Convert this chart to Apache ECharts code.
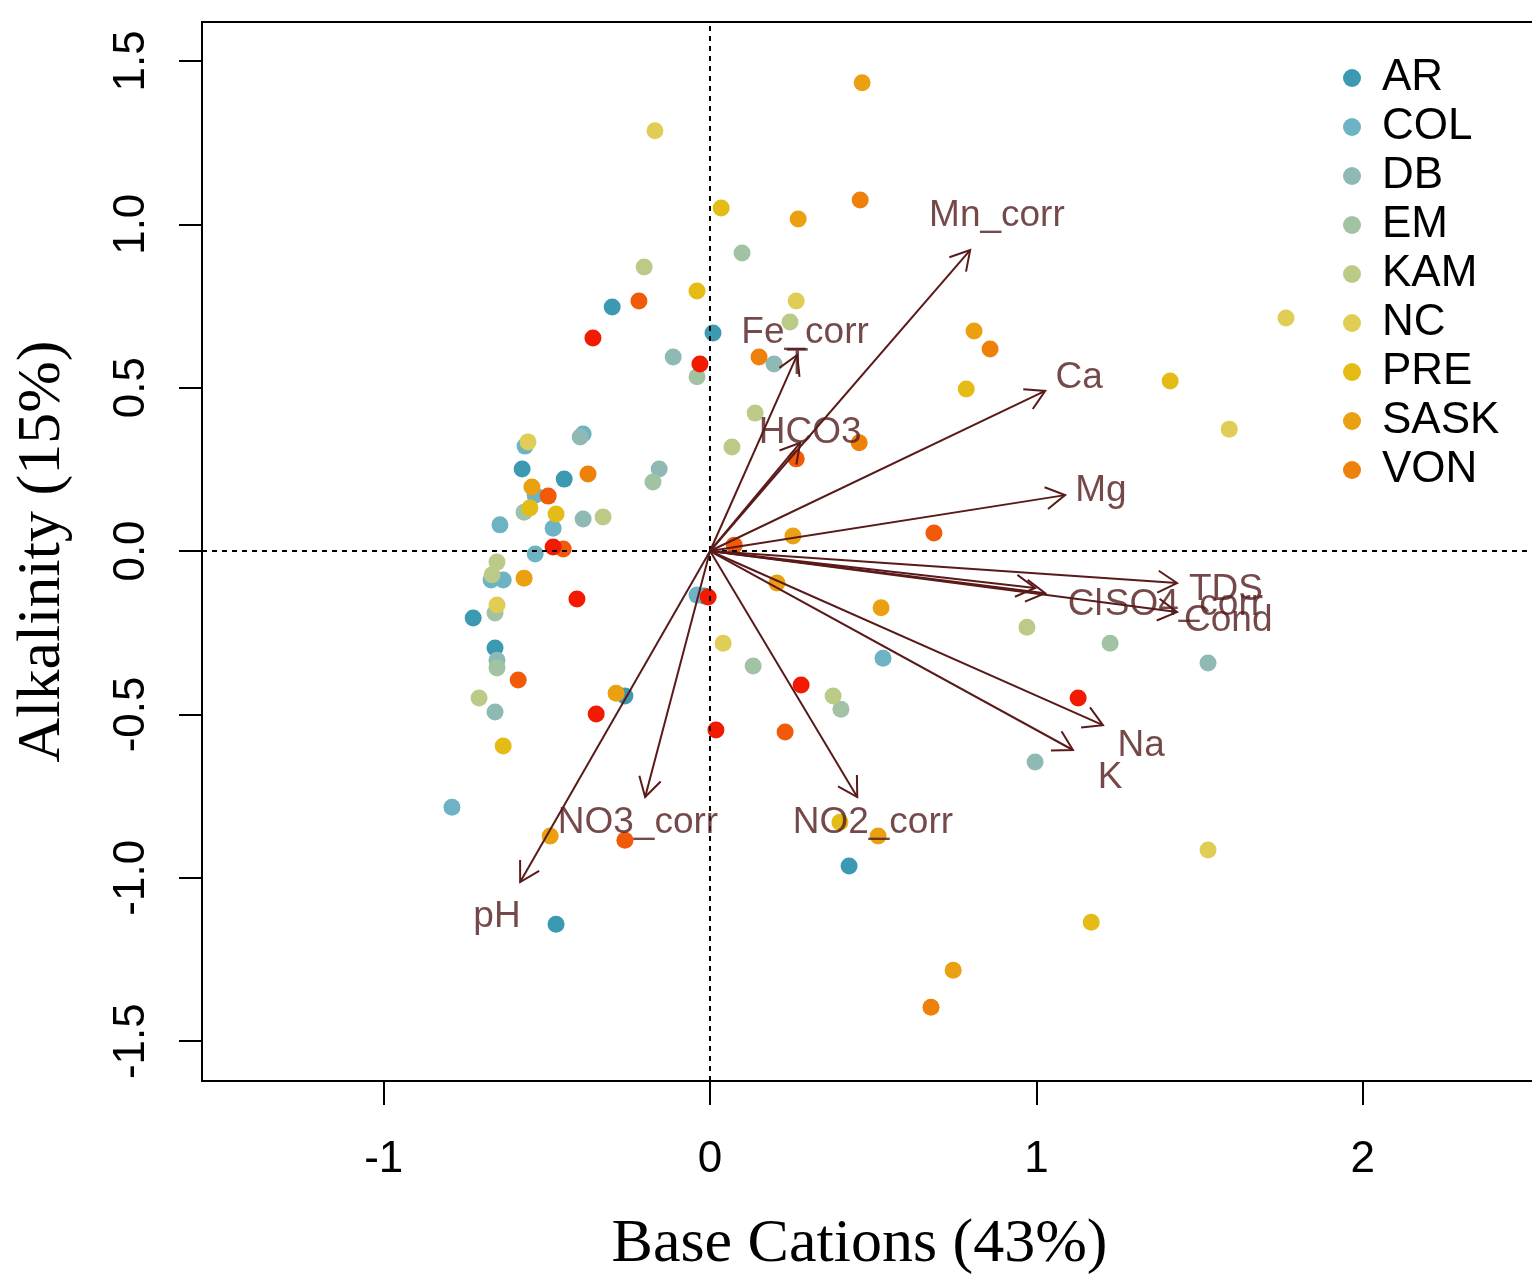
<!DOCTYPE html>
<html>
<head>
<meta charset="utf-8">
<script src="https://cdn.jsdelivr.net/npm/echarts@6/dist/echarts.min.js"></script>
<style>
  html, body { margin: 0; padding: 0; background: #fff; }
  #chart { width: 1532px; height: 1276px; }
</style>
</head>
<body>
<div id="chart"></div>
<script>
// site groups (legend) and their colours
var groups = ['AR', 'COL', 'DB', 'EM', 'KAM', 'NC', 'PRE', 'SASK', 'VON', 'G10', 'G11'];
var legendGroups = ['AR', 'COL', 'DB', 'EM', 'KAM', 'NC', 'PRE', 'SASK', 'VON'];
var colors = ['#3b9ab2', '#6db3c3', '#8fb9b5', '#a2c3a3', '#bcca88', '#dfcd55', '#e5bc15', '#eaa010', '#ee800c', '#f05a08', '#f21a00'];

// sample scores, [PC1, PC2]
var ar = [[-0.300, 0.747], [0.009, 0.667], [-0.576, 0.251], [-0.447, 0.220], [-0.726, -0.205], [-0.659, -0.297], [-0.261, -0.444], [-0.018, -0.138], [0.426, -0.964], [-0.472, -1.142]];
var col = [[-0.567, 0.321], [-0.389, 0.358], [-0.536, 0.171], [-0.644, 0.080], [-0.481, 0.070], [-0.536, -0.009], [-0.634, -0.089], [-0.671, -0.089], [-0.040, -0.135], [0.530, -0.328], [-0.791, -0.784]];
var db = [[-0.398, 0.349], [-0.389, 0.098], [-0.113, 0.594], [0.196, 0.572], [-0.156, 0.251], [-0.653, -0.334], [-0.659, -0.493], [1.526, -0.343], [0.996, -0.646]];
var em = [[0.098, 0.912], [-0.040, 0.533], [-0.570, 0.119], [-0.175, 0.211], [-0.659, -0.190], [-0.653, -0.358], [0.132, -0.352], [0.401, -0.484], [1.226, -0.282]];
var kam = [[-0.202, 0.869], [0.245, 0.701], [0.138, 0.422], [0.067, 0.318], [-0.328, 0.104], [-0.653, -0.034], [-0.668, -0.073], [-0.708, -0.450], [0.377, -0.444], [0.971, -0.233]];
var nc = [[-0.169, 1.286], [0.264, 0.765], [-0.558, 0.334], [-0.653, -0.165], [0.040, -0.282], [1.765, 0.713], [1.591, 0.373], [1.526, -0.915]];
var pre = [[0.034, 1.050], [-0.040, 0.796], [0.785, 0.496], [1.410, 0.520], [-0.552, 0.132], [-0.472, 0.113], [-0.634, -0.597], [0.398, -0.830], [1.168, -1.136]];
var sask = [[0.466, 1.433], [0.270, 1.016], [0.809, 0.673], [-0.546, 0.196], [-0.570, -0.083], [0.254, 0.046], [0.205, -0.098], [0.524, -0.174], [-0.288, -0.435], [0.515, -0.872], [0.745, -1.283], [-0.490, -0.872]];
var von = [[0.460, 1.074], [0.858, 0.618], [0.150, 0.594], [0.457, 0.331], [-0.374, 0.236], [0.677, -1.396]];
var g10 = [[-0.218, 0.765], [-0.496, 0.168], [-0.450, 0.006], [-0.588, -0.395], [0.264, 0.282], [0.686, 0.055], [0.074, 0.018], [0.230, -0.554], [-0.261, -0.885]];
var g11 = [[-0.359, 0.652], [-0.031, 0.572], [-0.481, 0.012], [-0.408, -0.147], [-0.349, -0.499], [-0.006, -0.141], [0.279, -0.410], [0.018, -0.548], [1.128, -0.450]];
var points = [ar, col, db, em, kam, nc, pre, sask, von, g10, g11];

// variable loadings (arrow tips)
var varNames = ['Mn_corr', 'Fe_corr', 'HCO3', 'Ca', 'Mg', 'TDS', 'Cl', 'SO4_corr', 'Cond', 'Na', 'K', 'NO2_corr', 'NO3_corr', 'pH'];
var varX = [0.797, 0.267, 0.276, 1.027, 1.088, 1.431, 0.996, 1.027, 1.431, 1.204, 1.112, 0.451, -0.199, -0.582];
var varY = [0.921, 0.600, 0.331, 0.490, 0.171, -0.098, -0.113, -0.129, -0.187, -0.533, -0.609, -0.753, -0.753, -1.013];

// label positions
var labNames = ['Mn_corr', 'Fe_corr', 'T', 'HCO3', 'Ca', 'Mg', 'TDS', 'Cl', 'SO4_corr', 'Cond', 'Na', 'K', 'NO2_corr', 'NO3_corr', 'pH'];
var labX = [0.879, 0.291, 0.267, 0.307, 1.131, 1.198, 1.581, 1.150, 1.452, 1.588, 1.321, 1.226, 0.499, -0.221, -0.653];
var labY = [1.025, 0.667, 0.572, 0.361, 0.530, 0.184, -0.119, -0.165, -0.165, -0.214, -0.597, -0.695, -0.832, -0.832, -1.120];

var xTicks = [-1, 0, 1, 2];
var yTicks = [-1.5, -1.0, -0.5, 0.0, 0.5, 1.0, 1.5];

var arrowColor = '#5a1a1a';
var labelColor = '#531c1c';

var chart = echarts.init(document.getElementById('chart'));

var series = [];
for (var i = 0; i < groups.length; i++) {
    var s = {
        name: groups[i],
        type: 'scatter',
        data: points[i],
        symbol: 'circle',
        symbolSize: 17,
        itemStyle: { color: colors[i], opacity: 1 },
        z: 2
    };
    if (i === 0) {
        // dotted lines through the origin
        s.markLine = {
            silent: true,
            symbol: ['none', 'none'],
            label: { show: false },
            lineStyle: { color: '#000', type: [5, 5], width: 2 },
            data: [{ xAxis: 0 }, { yAxis: 0 }]
        };
    }
    series.push(s);
}

// arrows, drawn with an open head like R's arrows()
series.push({
    type: 'custom',
    data: varX.map(function (x, k) { return [x, varY[k]]; }),
    z: 5,
    silent: true,
    renderItem: function (params, api) {
        var o = api.coord([0, 0]);
        var e = api.coord([api.value(0), api.value(1)]);
        var ang = Math.atan2(e[1] - o[1], e[0] - o[0]);
        var len = 22, spread = Math.PI / 6;
        var h1 = [e[0] - len * Math.cos(ang - spread), e[1] - len * Math.sin(ang - spread)];
        var h2 = [e[0] - len * Math.cos(ang + spread), e[1] - len * Math.sin(ang + spread)];
        var st = { stroke: arrowColor, lineWidth: 2, fill: null };
        return {
            type: 'group',
            children: [
                { type: 'line', shape: { x1: o[0], y1: o[1], x2: e[0], y2: e[1] }, style: st },
                { type: 'polyline', shape: { points: [h1, e, h2] }, style: st }
            ]
        };
    }
});

// variable labels
series.push({
    type: 'scatter',
    data: labNames.map(function (n, k) { return { name: n, value: [labX[k], labY[k]] }; }),
    symbolSize: 1,
    itemStyle: { color: 'rgba(0,0,0,0)' },
    silent: true,
    z: 6,
    label: {
        show: true,
        position: 'inside',
        formatter: function (p) { return p.name; },
        color: labelColor,
        textBorderWidth: 0,
        fontFamily: 'Liberation Sans, Arial, sans-serif',
        fontSize: 37
    }
});

var option = {
    animation: false,
    backgroundColor: '#fff',
    grid: {
        left: 202, top: 22, right: -3, bottom: 195,
        outerBoundsMode: 'none',
        containLabel: false,
        show: true, borderColor: '#000', borderWidth: 2
    },
    legend: {
        data: legendGroups,
        orient: 'vertical',
        left: 1338,
        top: 51,
        itemWidth: 18,
        itemHeight: 18,
        itemGap: 5,
        icon: 'circle',
        textStyle: {
            fontFamily: 'Liberation Sans, Arial, sans-serif',
            fontSize: 44,
            lineHeight: 44,
            color: '#000',
            padding: [0, 0, 0, 16]
        }
    },
    xAxis: {
        type: 'value',
        min: -1.557,
        max: 2.528,
        splitLine: { show: false },
        axisLine: { show: false, onZero: false },
        axisTick: {
            show: true, length: 24, customValues: xTicks,
            lineStyle: { color: '#000', width: 2 }
        },
        axisLabel: {
            customValues: xTicks,
            margin: 57,
            color: '#000',
            fontFamily: 'Liberation Sans, Arial, sans-serif',
            fontSize: 44,
            formatter: function (v) { return String(v); }
        },
        name: 'Base Cations (43%)',
        nameLocation: 'middle',
        nameGap: 133,
        nameTextStyle: {
            fontFamily: 'Liberation Serif, Times New Roman, serif',
            fontSize: 62,
            color: '#000',
            padding: [0, 18, 0, 0]
        }
    },
    yAxis: {
        type: 'value',
        min: -1.622,
        max: 1.619,
        splitLine: { show: false },
        axisLine: { show: false, onZero: false },
        axisTick: {
            show: true, length: 23, customValues: yTicks,
            lineStyle: { color: '#000', width: 2 }
        },
        axisLabel: {
            customValues: yTicks,
            rotate: 90,
            margin: 48,
            color: '#000',
            fontFamily: 'Liberation Sans, Arial, sans-serif',
            fontSize: 44,
            formatter: function (v) { return v.toFixed(1); }
        },
        name: 'Alkalinity (15%)',
        nameLocation: 'middle',
        nameRotate: 90,
        nameGap: 128,
        nameTextStyle: {
            fontFamily: 'Liberation Serif, Times New Roman, serif',
            fontSize: 62,
            color: '#000'
        }
    },
    series: series
};

chart.setOption(option);
</script>
</body>
</html>
